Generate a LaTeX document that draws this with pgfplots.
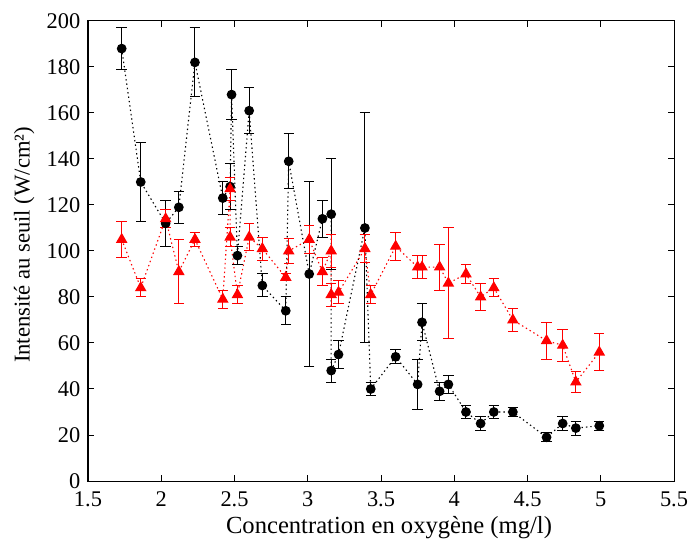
\documentclass[border=0pt]{standalone}
\usepackage{fontspec}
\setmainfont{Liberation Serif}
\usepackage{pgfplots}
\pgfplotsset{compat=1.18}
\usepackage{pgfplotstable}

\pgfplotstableread{
x y e
1.73 188 9
1.86 130 17
2.03 112 10
2.12 119 7
2.23 182 15
2.42 123 7
2.47 128 10
2.48 168 11
2.52 98 4
2.60 161 10
2.69 85 5
2.85 74 6
2.87 139 12
3.01 90 40
3.10 114 8
3.16 116 24
3.16 48 5
3.21 55 6
3.39 110 50
3.43 40 3
3.60 54 3
3.75 42 11
3.78 69 8
3.90 39 4
3.96 42 4
4.08 30 3
4.18 25 3
4.27 30 3
4.40 30 2
4.63 19 2
4.74 25 3
4.83 23 3
4.99 24 2
}\blackdata

\pgfplotstableread{
x y e
1.73 105 8
1.86 84 4
2.03 114 4
2.12 91 14
2.23 105 3
2.42 79 4
2.47 127 5
2.47 106 4
2.52 81 4
2.60 106 6
2.69 101 5
2.85 88.5 1.5
2.87 100 5.5
3.01 105 6
3.10 91 6
3.16 100 7
3.16 81 5
3.21 82 5
3.39 101 6
3.43 81 4
3.60 102 6
3.75 93 5
3.78 93 5
3.90 93 10
3.96 86 24
4.08 90 4
4.18 80 6
4.27 84 4
4.40 70 5
4.63 61 8
4.74 59 7
4.83 43 4.5
4.99 56 8
}\reddata

\begin{document}
\fontsize{11}{13}\selectfont
\begin{tikzpicture}
\begin{axis}[
  at={(0,0)}, anchor=south west,
  scale only axis, width=293pt, height=230pt,
  xmin=1.5, xmax=5.5, ymin=0, ymax=200,
  xtick={1.5,2,2.5,3,3.5,4,4.5,5,5.5},
  ytick={0,20,40,60,80,100,120,140,160,180,200},
  xticklabels={1.5,2,2.5,3,3.5,4,4.5,5,5.5},
  tick align=inside,
  major tick length=3pt,
  /pgf/number format/assume math mode=true,
  tick label style={font=\fontsize{11.2}{13}\selectfont, black},
  xticklabel style={yshift=-1.5pt},
  axis line style={black, line width=0.5pt},
  every tick/.style={black, line width=0.5pt},
  xlabel={Concentration en oxygène (mg/l)},
  ylabel={Intensité au seuil (W/cm²)},
  xlabel style={font=\fontsize{12.3}{14}\selectfont, at={(axis description cs:0.5,0)}, anchor=center, xshift=4pt, yshift=-23.5pt},
  ylabel style={font=\fontsize{11.3}{13}\selectfont, at={(axis description cs:-0.109,0.5)}, anchor=center, xshift=3pt},
  clip=false,
]
\addplot[black, line width=0.55pt, dash pattern=on 0.7pt off 1.5pt,
  mark=*, mark size=2.15pt, mark options={solid, fill=black},
  error bars/.cd, y dir=both, y explicit,
  error bar style={solid, black, line width=0.5pt},
  error mark options={rotate=90, mark size=2.6pt, solid, black, line width=0.5pt}]
  table[x=x, y=y, y error=e] {\blackdata};
\addplot[red, line width=0.55pt, dash pattern=on 0.7pt off 1.5pt,
  mark=triangle*, mark size=2.8pt, mark options={solid, fill=red},
  error bars/.cd, y dir=both, y explicit,
  error bar style={solid, red, line width=0.5pt},
  error mark options={rotate=90, mark size=2.6pt, solid, red, line width=0.5pt}]
  table[x=x, y=y, y error=e] {\reddata};
\end{axis}
\pgfresetboundingbox
\path (-44pt,-29pt) rectangle (300pt,240.5pt);
\end{tikzpicture}
\end{document}
